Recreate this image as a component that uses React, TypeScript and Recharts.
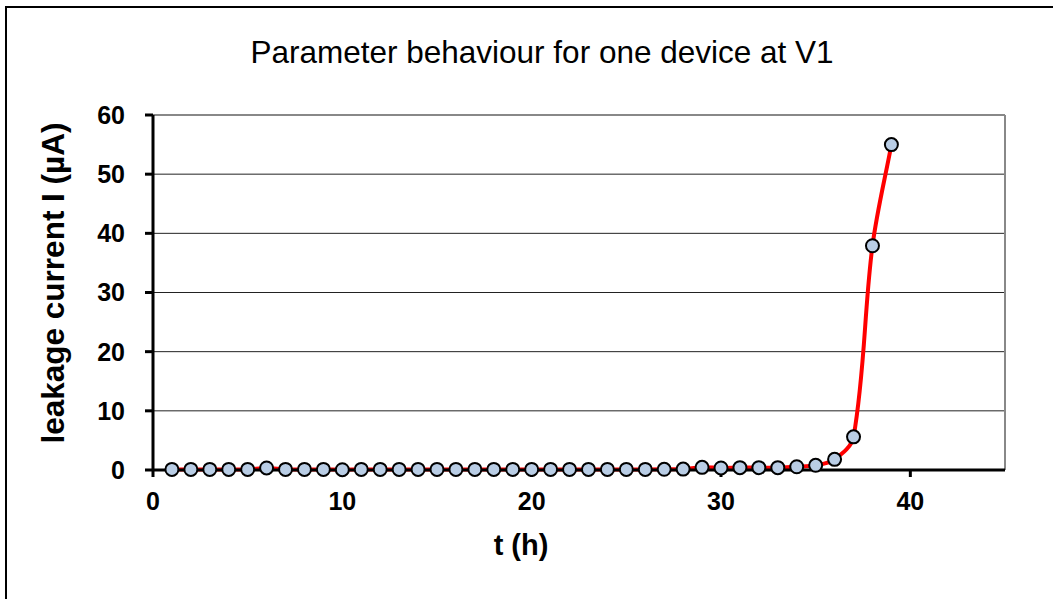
import React from 'react';
import {
  LineChart,
  Line,
  XAxis,
  YAxis,
  CartesianGrid,
  ReferenceLine
} from 'recharts';

// hours since start of stress
const hours = [
  1, 2, 3, 4, 5, 6, 7, 8, 9, 10,
  11, 12, 13, 14, 15, 16, 17, 18, 19, 20,
  21, 22, 23, 24, 25, 26, 27, 28, 29, 30,
  31, 32, 33, 34, 35, 36, 37, 38, 39
];

// leakage current in µA
const leakage = [
  0.1, 0.1, 0.1, 0.1, 0.1, 0.35, 0.1, 0.1, 0.1, 0.05,
  0.1, 0.1, 0.1, 0.1, 0.1, 0.1, 0.1, 0.1, 0.1, 0.1,
  0.1, 0.1, 0.1, 0.1, 0.1, 0.1, 0.12, 0.15, 0.45, 0.35,
  0.4, 0.4, 0.4, 0.55, 0.8, 1.8, 5.6, 37.9, 55
];

const xTicks = [0, 10, 20, 30, 40];
const yTicks = [0, 10, 20, 30, 40, 50, 60];

const FONT = '"Liberation Sans", Arial, sans-serif';

// Excel-like smoothed line: tangent follows neighbours, handle length
// follows each segment's own length so short segments don't overshoot
const excelSmooth = (context: any) => {
  let pts: number[][] = [];
  const dist = (a: number[], b: number[]) => Math.hypot(b[0] - a[0], b[1] - a[1]);
  const dir = (a: number[], b: number[]) => {
    const d = dist(a, b) || 1;
    return [(b[0] - a[0]) / d, (b[1] - a[1]) / d];
  };
  return {
    areaStart() {},
    areaEnd() {},
    lineStart() {
      pts = [];
    },
    point(x: number, y: number) {
      pts.push([+x, +y]);
    },
    lineEnd() {
      if (!pts.length) return;
      context.moveTo(pts[0][0], pts[0][1]);
      for (let i = 0; i < pts.length - 1; i++) {
        const p0 = pts[i - 1] || pts[i];
        const p1 = pts[i];
        const p2 = pts[i + 1];
        const p3 = pts[i + 2] || p2;
        const len = dist(p1, p2) / 3;
        const t1 = dir(p0, p2);
        const t2 = dir(p1, p3);
        context.bezierCurveTo(
          p1[0] + t1[0] * len,
          p1[1] + t1[1] * len,
          p2[0] - t2[0] * len,
          p2[1] - t2[1] * len,
          p2[0],
          p2[1]
        );
      }
    }
  };
};

const App: React.FC = () => {
  const data = hours.map((t, i) => ({ t, current: leakage[i] }));

  return (
    <div
      style={{
        position: 'fixed',
        left: 0,
        top: 0,
        width: 1053,
        height: 599,
        overflow: 'hidden',
        background: '#fff',
        fontFamily: FONT
      }}
    >
      <div
        style={{
          position: 'absolute',
          left: 5,
          top: 6,
          width: 1100,
          height: 700,
          border: '2px solid #000'
        }}
      />
      <div
        style={{
          position: 'absolute',
          left: 0,
          width: 1084,
          top: 33,
          textAlign: 'center',
          fontSize: 31.5,
          lineHeight: '38px'
        }}
      >
        Parameter behaviour for one device at V1
      </div>
      <div
        style={{
          position: 'absolute',
          left: 421,
          width: 200,
          top: 528,
          textAlign: 'center',
          fontSize: 29,
          fontWeight: 'bold',
          lineHeight: '34px'
        }}
      >
        t (h)
      </div>
      <div
        style={{
          position: 'absolute',
          left: 53 - 200,
          top: 283 - 18,
          width: 400,
          height: 36,
          textAlign: 'center',
          fontSize: 31.5,
          fontWeight: 'bold',
          lineHeight: '36px',
          transform: 'rotate(-90deg)',
          transformOrigin: '50% 50%'
        }}
      >
        leakage current I (µA)
      </div>
      <div style={{ position: 'absolute', left: 0, top: 0 }}>
        <LineChart
          width={1053}
          height={599}
          data={data}
          margin={{ top: 115, right: 48, bottom: 99, left: 93 }}
        >
          <CartesianGrid vertical={false} stroke="#222" strokeWidth={1} />
          <ReferenceLine y={60} stroke="#888" strokeWidth={2} />
          <ReferenceLine x={45} stroke="#888" strokeWidth={2} />
          <XAxis
            dataKey="t"
            type="number"
            domain={[0, 45]}
            ticks={xTicks}
            height={30}
            axisLine={{ stroke: '#000', strokeWidth: 3 }}
            tickLine={{ stroke: '#000', strokeWidth: 3 }}
            tickSize={7}
            tickMargin={15}
            tick={{ fill: '#000', fontSize: 25, fontWeight: 'bold', fontFamily: FONT }}
          />
          <YAxis
            type="number"
            domain={[0, 60]}
            ticks={yTicks}
            width={60}
            axisLine={{ stroke: '#000', strokeWidth: 3 }}
            tickLine={{ stroke: '#000', strokeWidth: 3 }}
            tickSize={8}
            tickMargin={20}
            tick={{ fill: '#000', fontSize: 25, fontWeight: 'bold', fontFamily: FONT }}
          />
          <Line
            type={excelSmooth as any}
            dataKey="current"
            stroke="#ff0000"
            strokeWidth={4}
            dot={{ r: 6.5, fill: '#b9cde5', stroke: '#000', strokeWidth: 2 }}
            activeDot={false}
            isAnimationActive={false}
          />
        </LineChart>
      </div>
    </div>
  );
};

export default App;
